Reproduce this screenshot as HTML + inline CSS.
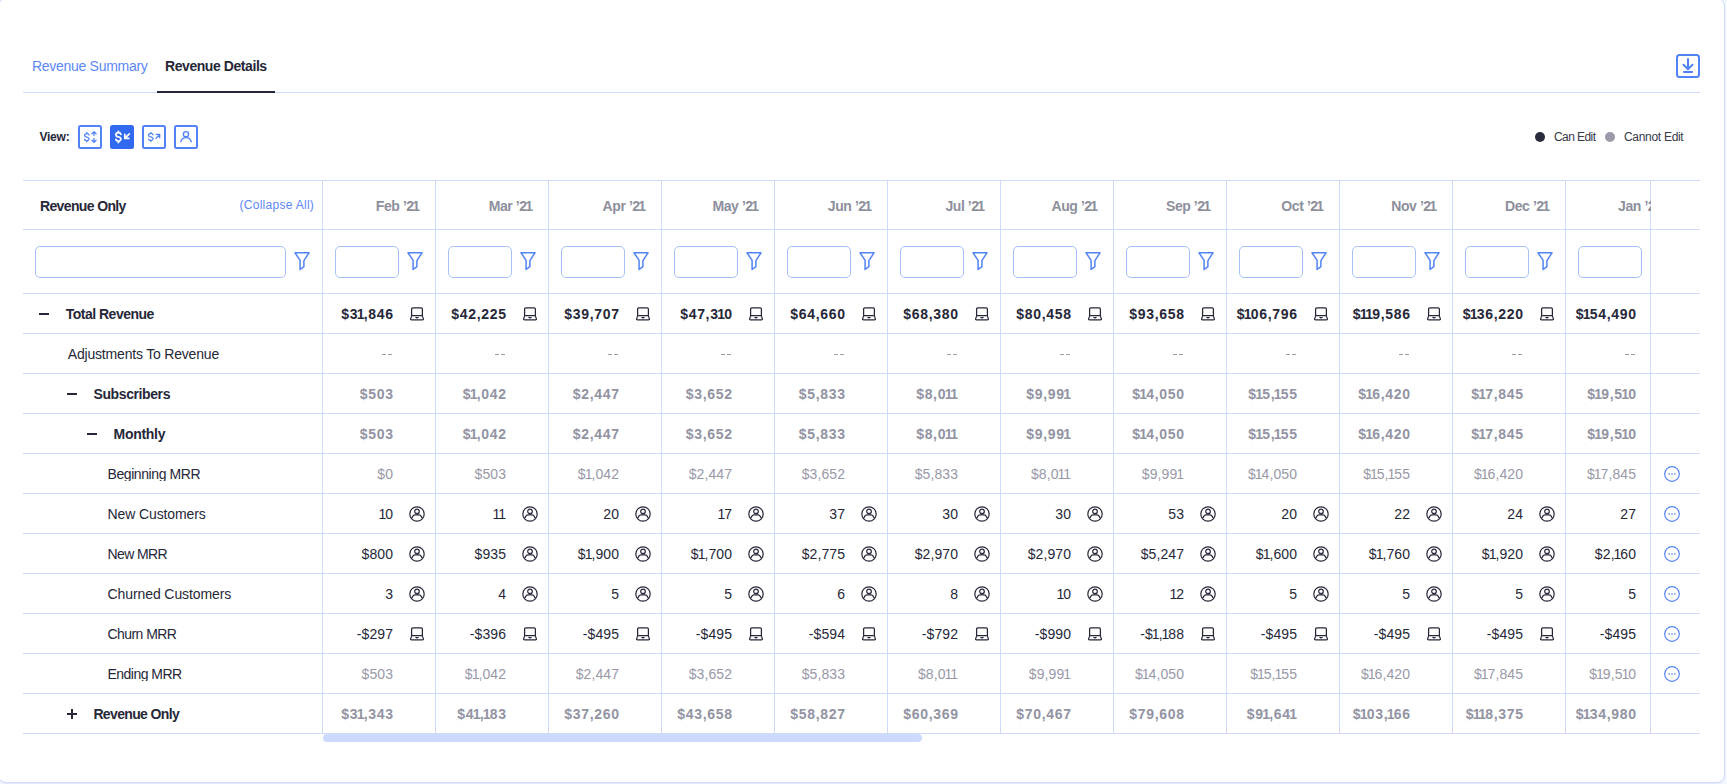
<!DOCTYPE html>
<html><head><meta charset="utf-8"><style>
html,body{margin:0;padding:0;width:1727px;height:784px;overflow:hidden;background:#f5f7fe;font-family:"Liberation Sans",sans-serif}
.b{position:absolute}
.t{position:absolute;white-space:nowrap;line-height:20px;height:20px}
.r{text-align:right}
</style></head><body>
<div class="b" style="left:-2px;top:-2px;width:1727px;height:785px;box-sizing:border-box;border:1px solid #cddafc;border-radius:8px;background:#fff;box-shadow:0 1px 1px rgba(70,110,240,0.10)"></div>
<div class="t" style="left:32px;top:56px;font-size:14px;font-weight:400;color:#5b88f5;letter-spacing:-0.29px;">Revenue Summary</div>
<div class="t" style="left:165px;top:56px;font-size:14px;font-weight:700;color:#262738;letter-spacing:-0.43px;">Revenue Details</div>
<div class="b" style="left:23px;top:92px;width:1677px;height:1px;background:#cddafc;"></div>
<div class="b" style="left:157px;top:91px;width:118px;height:2px;background:#262738;"></div>
<svg class="b" style="left:1676px;top:54px" width="24" height="24" viewBox="0 0 24 24" fill="none"><rect x="1" y="1" width="22" height="22" rx="2.5" stroke="#5283f6" stroke-width="2"/><path d="M12 5v10M7.5 10.8L12 15.2l4.5-4.4" stroke="#5283f6" stroke-width="2" stroke-linecap="round" stroke-linejoin="round"/><path d="M7.2 18h9.7" stroke="#5283f6" stroke-width="2"/></svg>
<div class="t" style="left:39.5px;top:127px;font-size:12px;font-weight:700;color:#262738;letter-spacing:-0.25px;">View:</div>
<svg class="b" style="left:78px;top:125px" width="24" height="24" viewBox="0 0 24 24" fill="none"><rect x="1" y="1" width="22" height="22" rx="1.5" stroke="#5283f6" stroke-width="2"/><path d="M11.10 10.02C10.80 8.96 9.85 8.60 8.85 8.60C7.30 8.60 6.60 9.59 6.60 10.59C6.60 11.79 7.95 11.94 8.85 12.15C9.75 12.36 11.10 12.65 11.10 13.78C11.10 14.85 9.65 15.70 8.85 15.70C7.75 15.70 6.90 15.20 6.60 14.28M8.85 7.50V8.60M8.85 15.70V16.80" stroke="#5283f6" stroke-width="1.3" stroke-linecap="round" stroke-linejoin="round" fill="none"/><path d="M16 6.6v4M13.9 8.7L16 6.6l2.1 2.1M16 13.4v4M13.9 15.3L16 17.4l2.1-2.1" stroke="#5283f6" stroke-width="1.3" stroke-linecap="round" stroke-linejoin="round"/></svg>
<svg class="b" style="left:110px;top:125px" width="24" height="24" viewBox="0 0 24 24" fill="none"><rect x="0" y="0" width="24" height="24" rx="2.5" fill="#3169f0"/><path d="M10.90 9.32C10.60 8.03 9.40 7.60 8.40 7.60C6.60 7.60 5.90 8.80 5.90 10.01C5.90 11.47 7.50 11.64 8.40 11.90C9.30 12.16 10.90 12.50 10.90 13.88C10.90 15.17 9.20 16.20 8.40 16.20C7.30 16.20 6.20 15.60 5.90 14.48M8.40 6.30V7.60M8.40 16.20V17.50" stroke="#fff" stroke-width="1.8" stroke-linecap="round" stroke-linejoin="round" fill="none"/><path d="M19.3 8.9l-4.4 4.4M14.8 9.4v4h4" stroke="#fff" stroke-width="1.8" stroke-linecap="round" stroke-linejoin="round"/></svg>
<svg class="b" style="left:142px;top:125px" width="24" height="24" viewBox="0 0 24 24" fill="none"><rect x="1" y="1" width="22" height="22" rx="1.5" stroke="#5283f6" stroke-width="2"/><path d="M11.10 9.82C10.80 8.76 9.85 8.40 8.85 8.40C7.30 8.40 6.60 9.39 6.60 10.39C6.60 11.60 7.95 11.74 8.85 11.95C9.75 12.16 11.10 12.45 11.10 13.58C11.10 14.65 9.65 15.50 8.85 15.50C7.75 15.50 6.90 15.00 6.60 14.08M8.85 7.30V8.40M8.85 15.50V16.60" stroke="#5283f6" stroke-width="1.3" stroke-linecap="round" stroke-linejoin="round" fill="none"/><path d="M13.9 13.4l3.7-3.9M14.2 9.3h3.5v3.5" stroke="#5283f6" stroke-width="1.3" stroke-linecap="round" stroke-linejoin="round"/></svg>
<svg class="b" style="left:174px;top:125px" width="24" height="24" viewBox="0 0 24 24" fill="none"><rect x="1" y="1" width="22" height="22" rx="1.5" stroke="#5283f6" stroke-width="2"/><circle cx="12" cy="9.2" r="2.6" stroke="#5283f6" stroke-width="1.4"/><path d="M6.8 16.8C7.4 14 9.4 12.6 12 12.6S16.6 14 17.2 16.8" stroke="#5283f6" stroke-width="1.4" stroke-linecap="round"/></svg>
<div class="b" style="left:1535px;top:132px;width:10px;height:10px;background:#2a2b3d;border-radius:50%"></div>
<div class="t" style="left:1554px;top:127px;font-size:12px;font-weight:400;color:#383949;letter-spacing:-0.57px;">Can Edit</div>
<div class="b" style="left:1605px;top:132px;width:10px;height:10px;background:#9a9aa9;border-radius:50%"></div>
<div class="t" style="left:1624px;top:127px;font-size:12px;font-weight:400;color:#383949;letter-spacing:-0.30px;">Cannot Edit</div>
<div class="b" style="left:23px;top:180px;width:1677px;height:1px;background:#cddafc;"></div>
<div class="b" style="left:23px;top:229px;width:1677px;height:1px;background:#cddafc;"></div>
<div class="b" style="left:23px;top:293px;width:1677px;height:1px;background:#cddafc;"></div>
<div class="b" style="left:23px;top:333px;width:1677px;height:1px;background:#cddafc;"></div>
<div class="b" style="left:23px;top:373px;width:1677px;height:1px;background:#cddafc;"></div>
<div class="b" style="left:23px;top:413px;width:1677px;height:1px;background:#cddafc;"></div>
<div class="b" style="left:23px;top:453px;width:1677px;height:1px;background:#cddafc;"></div>
<div class="b" style="left:23px;top:493px;width:1677px;height:1px;background:#cddafc;"></div>
<div class="b" style="left:23px;top:533px;width:1677px;height:1px;background:#cddafc;"></div>
<div class="b" style="left:23px;top:573px;width:1677px;height:1px;background:#cddafc;"></div>
<div class="b" style="left:23px;top:613px;width:1677px;height:1px;background:#cddafc;"></div>
<div class="b" style="left:23px;top:653px;width:1677px;height:1px;background:#cddafc;"></div>
<div class="b" style="left:23px;top:693px;width:1677px;height:1px;background:#cddafc;"></div>
<div class="b" style="left:23px;top:733px;width:1677px;height:1px;background:#cddafc;"></div>
<div class="b" style="left:322px;top:180px;width:1px;height:554px;background:#cddafc;"></div>
<div class="b" style="left:435px;top:180px;width:1px;height:554px;background:#cddafc;"></div>
<div class="b" style="left:548px;top:180px;width:1px;height:554px;background:#cddafc;"></div>
<div class="b" style="left:661px;top:180px;width:1px;height:554px;background:#cddafc;"></div>
<div class="b" style="left:774px;top:180px;width:1px;height:554px;background:#cddafc;"></div>
<div class="b" style="left:887px;top:180px;width:1px;height:554px;background:#cddafc;"></div>
<div class="b" style="left:1000px;top:180px;width:1px;height:554px;background:#cddafc;"></div>
<div class="b" style="left:1113px;top:180px;width:1px;height:554px;background:#cddafc;"></div>
<div class="b" style="left:1226px;top:180px;width:1px;height:554px;background:#cddafc;"></div>
<div class="b" style="left:1339px;top:180px;width:1px;height:554px;background:#cddafc;"></div>
<div class="b" style="left:1452px;top:180px;width:1px;height:554px;background:#cddafc;"></div>
<div class="b" style="left:1565px;top:180px;width:1px;height:554px;background:#cddafc;"></div>
<div class="b" style="left:1650px;top:180px;width:1px;height:554px;background:#cddafc;"></div>
<div class="t" style="left:40px;top:196px;font-size:14px;font-weight:700;color:#262738;letter-spacing:-0.64px;">Revenue Only</div>
<div class="t" style="left:239.5px;top:195px;font-size:12px;font-weight:400;color:#5b88f5;letter-spacing:0.28px;">(Collapse All)</div>
<div class="b" style="left:35px;top:246px;width:251px;height:32px;box-sizing:border-box;border:1px solid #a9c1fb;border-radius:5px"></div>
<svg class="b" style="left:294px;top:252px" width="16" height="19" viewBox="0 0 16 19" fill="none"><path d="M1 0.8H15L9.9 8.6V14.6L6.1 17.5V8.4Z" stroke="#5283f6" stroke-width="1.5" stroke-linejoin="round"/></svg>
<div class="b" style="left:335px;top:246px;width:64px;height:32px;box-sizing:border-box;border:1px solid #a9c1fb;border-radius:5px"></div>
<svg class="b" style="left:407px;top:252px" width="16" height="19" viewBox="0 0 16 19" fill="none"><path d="M1 0.8H15L9.9 8.6V14.6L6.1 17.5V8.4Z" stroke="#5283f6" stroke-width="1.5" stroke-linejoin="round"/></svg>
<div class="b" style="left:448px;top:246px;width:64px;height:32px;box-sizing:border-box;border:1px solid #a9c1fb;border-radius:5px"></div>
<svg class="b" style="left:520px;top:252px" width="16" height="19" viewBox="0 0 16 19" fill="none"><path d="M1 0.8H15L9.9 8.6V14.6L6.1 17.5V8.4Z" stroke="#5283f6" stroke-width="1.5" stroke-linejoin="round"/></svg>
<div class="b" style="left:561px;top:246px;width:64px;height:32px;box-sizing:border-box;border:1px solid #a9c1fb;border-radius:5px"></div>
<svg class="b" style="left:633px;top:252px" width="16" height="19" viewBox="0 0 16 19" fill="none"><path d="M1 0.8H15L9.9 8.6V14.6L6.1 17.5V8.4Z" stroke="#5283f6" stroke-width="1.5" stroke-linejoin="round"/></svg>
<div class="b" style="left:674px;top:246px;width:64px;height:32px;box-sizing:border-box;border:1px solid #a9c1fb;border-radius:5px"></div>
<svg class="b" style="left:746px;top:252px" width="16" height="19" viewBox="0 0 16 19" fill="none"><path d="M1 0.8H15L9.9 8.6V14.6L6.1 17.5V8.4Z" stroke="#5283f6" stroke-width="1.5" stroke-linejoin="round"/></svg>
<div class="b" style="left:787px;top:246px;width:64px;height:32px;box-sizing:border-box;border:1px solid #a9c1fb;border-radius:5px"></div>
<svg class="b" style="left:859px;top:252px" width="16" height="19" viewBox="0 0 16 19" fill="none"><path d="M1 0.8H15L9.9 8.6V14.6L6.1 17.5V8.4Z" stroke="#5283f6" stroke-width="1.5" stroke-linejoin="round"/></svg>
<div class="b" style="left:900px;top:246px;width:64px;height:32px;box-sizing:border-box;border:1px solid #a9c1fb;border-radius:5px"></div>
<svg class="b" style="left:972px;top:252px" width="16" height="19" viewBox="0 0 16 19" fill="none"><path d="M1 0.8H15L9.9 8.6V14.6L6.1 17.5V8.4Z" stroke="#5283f6" stroke-width="1.5" stroke-linejoin="round"/></svg>
<div class="b" style="left:1013px;top:246px;width:64px;height:32px;box-sizing:border-box;border:1px solid #a9c1fb;border-radius:5px"></div>
<svg class="b" style="left:1085px;top:252px" width="16" height="19" viewBox="0 0 16 19" fill="none"><path d="M1 0.8H15L9.9 8.6V14.6L6.1 17.5V8.4Z" stroke="#5283f6" stroke-width="1.5" stroke-linejoin="round"/></svg>
<div class="b" style="left:1126px;top:246px;width:64px;height:32px;box-sizing:border-box;border:1px solid #a9c1fb;border-radius:5px"></div>
<svg class="b" style="left:1198px;top:252px" width="16" height="19" viewBox="0 0 16 19" fill="none"><path d="M1 0.8H15L9.9 8.6V14.6L6.1 17.5V8.4Z" stroke="#5283f6" stroke-width="1.5" stroke-linejoin="round"/></svg>
<div class="b" style="left:1239px;top:246px;width:64px;height:32px;box-sizing:border-box;border:1px solid #a9c1fb;border-radius:5px"></div>
<svg class="b" style="left:1311px;top:252px" width="16" height="19" viewBox="0 0 16 19" fill="none"><path d="M1 0.8H15L9.9 8.6V14.6L6.1 17.5V8.4Z" stroke="#5283f6" stroke-width="1.5" stroke-linejoin="round"/></svg>
<div class="b" style="left:1352px;top:246px;width:64px;height:32px;box-sizing:border-box;border:1px solid #a9c1fb;border-radius:5px"></div>
<svg class="b" style="left:1424px;top:252px" width="16" height="19" viewBox="0 0 16 19" fill="none"><path d="M1 0.8H15L9.9 8.6V14.6L6.1 17.5V8.4Z" stroke="#5283f6" stroke-width="1.5" stroke-linejoin="round"/></svg>
<div class="b" style="left:1465px;top:246px;width:64px;height:32px;box-sizing:border-box;border:1px solid #a9c1fb;border-radius:5px"></div>
<svg class="b" style="left:1537px;top:252px" width="16" height="19" viewBox="0 0 16 19" fill="none"><path d="M1 0.8H15L9.9 8.6V14.6L6.1 17.5V8.4Z" stroke="#5283f6" stroke-width="1.5" stroke-linejoin="round"/></svg>
<div class="b" style="left:1578px;top:246px;width:64px;height:32px;box-sizing:border-box;border:1px solid #a9c1fb;border-radius:5px"></div>
<div class="b" style="left:39px;top:313px;width:10px;height:2px;background:#262738;"></div>
<div class="t" style="left:65.7px;top:304px;font-size:14px;font-weight:700;color:#262738;letter-spacing:-0.50px;">Total Revenue</div>
<div class="t r" style="right:1333.3px;top:304px;font-size:14px;font-weight:700;color:#262738;letter-spacing:0.70px;">$3<span style="margin-left:-1.50px;letter-spacing:-0.80px">1</span>,846</div>
<svg class="b" style="left:410px;top:307px" width="14" height="14" viewBox="0 0 14 14" fill="none"><path d="M1.6 8.6V2.1C1.6 1.4 2.1 0.9 2.8 0.9H11.2C11.9 0.9 12.4 1.4 12.4 2.1V8.6Z" stroke="#262738" stroke-width="1.25" stroke-linejoin="round"/><path d="M1.6 9.1L0.6 11.9C0.5 12.5 0.9 12.9 1.5 12.9H12.5C13.1 12.9 13.5 12.5 13.4 11.9L12.4 9.1" stroke="#262738" stroke-width="1.25" stroke-linejoin="round"/><path d="M5.8 10.5H8.2M7 10.5V11.2" stroke="#262738" stroke-width="1.1" stroke-linecap="round"/></svg>
<div class="t r" style="right:1220.3px;top:304px;font-size:14px;font-weight:700;color:#262738;letter-spacing:0.70px;">$42,225</div>
<svg class="b" style="left:523px;top:307px" width="14" height="14" viewBox="0 0 14 14" fill="none"><path d="M1.6 8.6V2.1C1.6 1.4 2.1 0.9 2.8 0.9H11.2C11.9 0.9 12.4 1.4 12.4 2.1V8.6Z" stroke="#262738" stroke-width="1.25" stroke-linejoin="round"/><path d="M1.6 9.1L0.6 11.9C0.5 12.5 0.9 12.9 1.5 12.9H12.5C13.1 12.9 13.5 12.5 13.4 11.9L12.4 9.1" stroke="#262738" stroke-width="1.25" stroke-linejoin="round"/><path d="M5.8 10.5H8.2M7 10.5V11.2" stroke="#262738" stroke-width="1.1" stroke-linecap="round"/></svg>
<div class="t r" style="right:1107.3px;top:304px;font-size:14px;font-weight:700;color:#262738;letter-spacing:0.70px;">$39,707</div>
<svg class="b" style="left:636px;top:307px" width="14" height="14" viewBox="0 0 14 14" fill="none"><path d="M1.6 8.6V2.1C1.6 1.4 2.1 0.9 2.8 0.9H11.2C11.9 0.9 12.4 1.4 12.4 2.1V8.6Z" stroke="#262738" stroke-width="1.25" stroke-linejoin="round"/><path d="M1.6 9.1L0.6 11.9C0.5 12.5 0.9 12.9 1.5 12.9H12.5C13.1 12.9 13.5 12.5 13.4 11.9L12.4 9.1" stroke="#262738" stroke-width="1.25" stroke-linejoin="round"/><path d="M5.8 10.5H8.2M7 10.5V11.2" stroke="#262738" stroke-width="1.1" stroke-linecap="round"/></svg>
<div class="t r" style="right:994.3px;top:304px;font-size:14px;font-weight:700;color:#262738;letter-spacing:0.70px;">$47,3<span style="margin-left:-1.50px;letter-spacing:-0.80px">1</span>0</div>
<svg class="b" style="left:749px;top:307px" width="14" height="14" viewBox="0 0 14 14" fill="none"><path d="M1.6 8.6V2.1C1.6 1.4 2.1 0.9 2.8 0.9H11.2C11.9 0.9 12.4 1.4 12.4 2.1V8.6Z" stroke="#262738" stroke-width="1.25" stroke-linejoin="round"/><path d="M1.6 9.1L0.6 11.9C0.5 12.5 0.9 12.9 1.5 12.9H12.5C13.1 12.9 13.5 12.5 13.4 11.9L12.4 9.1" stroke="#262738" stroke-width="1.25" stroke-linejoin="round"/><path d="M5.8 10.5H8.2M7 10.5V11.2" stroke="#262738" stroke-width="1.1" stroke-linecap="round"/></svg>
<div class="t r" style="right:881.3px;top:304px;font-size:14px;font-weight:700;color:#262738;letter-spacing:0.70px;">$64,660</div>
<svg class="b" style="left:862px;top:307px" width="14" height="14" viewBox="0 0 14 14" fill="none"><path d="M1.6 8.6V2.1C1.6 1.4 2.1 0.9 2.8 0.9H11.2C11.9 0.9 12.4 1.4 12.4 2.1V8.6Z" stroke="#262738" stroke-width="1.25" stroke-linejoin="round"/><path d="M1.6 9.1L0.6 11.9C0.5 12.5 0.9 12.9 1.5 12.9H12.5C13.1 12.9 13.5 12.5 13.4 11.9L12.4 9.1" stroke="#262738" stroke-width="1.25" stroke-linejoin="round"/><path d="M5.8 10.5H8.2M7 10.5V11.2" stroke="#262738" stroke-width="1.1" stroke-linecap="round"/></svg>
<div class="t r" style="right:768.3px;top:304px;font-size:14px;font-weight:700;color:#262738;letter-spacing:0.70px;">$68,380</div>
<svg class="b" style="left:975px;top:307px" width="14" height="14" viewBox="0 0 14 14" fill="none"><path d="M1.6 8.6V2.1C1.6 1.4 2.1 0.9 2.8 0.9H11.2C11.9 0.9 12.4 1.4 12.4 2.1V8.6Z" stroke="#262738" stroke-width="1.25" stroke-linejoin="round"/><path d="M1.6 9.1L0.6 11.9C0.5 12.5 0.9 12.9 1.5 12.9H12.5C13.1 12.9 13.5 12.5 13.4 11.9L12.4 9.1" stroke="#262738" stroke-width="1.25" stroke-linejoin="round"/><path d="M5.8 10.5H8.2M7 10.5V11.2" stroke="#262738" stroke-width="1.1" stroke-linecap="round"/></svg>
<div class="t r" style="right:655.3px;top:304px;font-size:14px;font-weight:700;color:#262738;letter-spacing:0.70px;">$80,458</div>
<svg class="b" style="left:1088px;top:307px" width="14" height="14" viewBox="0 0 14 14" fill="none"><path d="M1.6 8.6V2.1C1.6 1.4 2.1 0.9 2.8 0.9H11.2C11.9 0.9 12.4 1.4 12.4 2.1V8.6Z" stroke="#262738" stroke-width="1.25" stroke-linejoin="round"/><path d="M1.6 9.1L0.6 11.9C0.5 12.5 0.9 12.9 1.5 12.9H12.5C13.1 12.9 13.5 12.5 13.4 11.9L12.4 9.1" stroke="#262738" stroke-width="1.25" stroke-linejoin="round"/><path d="M5.8 10.5H8.2M7 10.5V11.2" stroke="#262738" stroke-width="1.1" stroke-linecap="round"/></svg>
<div class="t r" style="right:542.3px;top:304px;font-size:14px;font-weight:700;color:#262738;letter-spacing:0.70px;">$93,658</div>
<svg class="b" style="left:1201px;top:307px" width="14" height="14" viewBox="0 0 14 14" fill="none"><path d="M1.6 8.6V2.1C1.6 1.4 2.1 0.9 2.8 0.9H11.2C11.9 0.9 12.4 1.4 12.4 2.1V8.6Z" stroke="#262738" stroke-width="1.25" stroke-linejoin="round"/><path d="M1.6 9.1L0.6 11.9C0.5 12.5 0.9 12.9 1.5 12.9H12.5C13.1 12.9 13.5 12.5 13.4 11.9L12.4 9.1" stroke="#262738" stroke-width="1.25" stroke-linejoin="round"/><path d="M5.8 10.5H8.2M7 10.5V11.2" stroke="#262738" stroke-width="1.1" stroke-linecap="round"/></svg>
<div class="t r" style="right:429.29999999999995px;top:304px;font-size:14px;font-weight:700;color:#262738;letter-spacing:0.70px;">$<span style="margin-left:-1.50px;letter-spacing:-0.80px">1</span>06,796</div>
<svg class="b" style="left:1314px;top:307px" width="14" height="14" viewBox="0 0 14 14" fill="none"><path d="M1.6 8.6V2.1C1.6 1.4 2.1 0.9 2.8 0.9H11.2C11.9 0.9 12.4 1.4 12.4 2.1V8.6Z" stroke="#262738" stroke-width="1.25" stroke-linejoin="round"/><path d="M1.6 9.1L0.6 11.9C0.5 12.5 0.9 12.9 1.5 12.9H12.5C13.1 12.9 13.5 12.5 13.4 11.9L12.4 9.1" stroke="#262738" stroke-width="1.25" stroke-linejoin="round"/><path d="M5.8 10.5H8.2M7 10.5V11.2" stroke="#262738" stroke-width="1.1" stroke-linecap="round"/></svg>
<div class="t r" style="right:316.29999999999995px;top:304px;font-size:14px;font-weight:700;color:#262738;letter-spacing:0.70px;">$<span style="margin-left:-1.50px;letter-spacing:-0.80px">1</span><span style="margin-left:-1.50px;letter-spacing:-0.80px">1</span>9,586</div>
<svg class="b" style="left:1427px;top:307px" width="14" height="14" viewBox="0 0 14 14" fill="none"><path d="M1.6 8.6V2.1C1.6 1.4 2.1 0.9 2.8 0.9H11.2C11.9 0.9 12.4 1.4 12.4 2.1V8.6Z" stroke="#262738" stroke-width="1.25" stroke-linejoin="round"/><path d="M1.6 9.1L0.6 11.9C0.5 12.5 0.9 12.9 1.5 12.9H12.5C13.1 12.9 13.5 12.5 13.4 11.9L12.4 9.1" stroke="#262738" stroke-width="1.25" stroke-linejoin="round"/><path d="M5.8 10.5H8.2M7 10.5V11.2" stroke="#262738" stroke-width="1.1" stroke-linecap="round"/></svg>
<div class="t r" style="right:203.29999999999995px;top:304px;font-size:14px;font-weight:700;color:#262738;letter-spacing:0.70px;">$<span style="margin-left:-1.50px;letter-spacing:-0.80px">1</span>36,220</div>
<svg class="b" style="left:1540px;top:307px" width="14" height="14" viewBox="0 0 14 14" fill="none"><path d="M1.6 8.6V2.1C1.6 1.4 2.1 0.9 2.8 0.9H11.2C11.9 0.9 12.4 1.4 12.4 2.1V8.6Z" stroke="#262738" stroke-width="1.25" stroke-linejoin="round"/><path d="M1.6 9.1L0.6 11.9C0.5 12.5 0.9 12.9 1.5 12.9H12.5C13.1 12.9 13.5 12.5 13.4 11.9L12.4 9.1" stroke="#262738" stroke-width="1.25" stroke-linejoin="round"/><path d="M5.8 10.5H8.2M7 10.5V11.2" stroke="#262738" stroke-width="1.1" stroke-linecap="round"/></svg>
<div class="t r" style="right:90.29999999999995px;top:304px;font-size:14px;font-weight:700;color:#262738;letter-spacing:0.70px;">$<span style="margin-left:-1.50px;letter-spacing:-0.80px">1</span>54,490</div>
<div class="t" style="left:67.8px;top:344px;font-size:14px;font-weight:400;color:#262738;letter-spacing:-0.19px;">Adjustments To Revenue</div>
<div class="b" style="left:382px;top:354px;width:4px;height:1px;background:#9c9dab;"></div>
<div class="b" style="left:388px;top:354px;width:4px;height:1px;background:#9c9dab;"></div>
<div class="b" style="left:495px;top:354px;width:4px;height:1px;background:#9c9dab;"></div>
<div class="b" style="left:501px;top:354px;width:4px;height:1px;background:#9c9dab;"></div>
<div class="b" style="left:608px;top:354px;width:4px;height:1px;background:#9c9dab;"></div>
<div class="b" style="left:614px;top:354px;width:4px;height:1px;background:#9c9dab;"></div>
<div class="b" style="left:721px;top:354px;width:4px;height:1px;background:#9c9dab;"></div>
<div class="b" style="left:727px;top:354px;width:4px;height:1px;background:#9c9dab;"></div>
<div class="b" style="left:834px;top:354px;width:4px;height:1px;background:#9c9dab;"></div>
<div class="b" style="left:840px;top:354px;width:4px;height:1px;background:#9c9dab;"></div>
<div class="b" style="left:947px;top:354px;width:4px;height:1px;background:#9c9dab;"></div>
<div class="b" style="left:953px;top:354px;width:4px;height:1px;background:#9c9dab;"></div>
<div class="b" style="left:1060px;top:354px;width:4px;height:1px;background:#9c9dab;"></div>
<div class="b" style="left:1066px;top:354px;width:4px;height:1px;background:#9c9dab;"></div>
<div class="b" style="left:1173px;top:354px;width:4px;height:1px;background:#9c9dab;"></div>
<div class="b" style="left:1179px;top:354px;width:4px;height:1px;background:#9c9dab;"></div>
<div class="b" style="left:1286px;top:354px;width:4px;height:1px;background:#9c9dab;"></div>
<div class="b" style="left:1292px;top:354px;width:4px;height:1px;background:#9c9dab;"></div>
<div class="b" style="left:1399px;top:354px;width:4px;height:1px;background:#9c9dab;"></div>
<div class="b" style="left:1405px;top:354px;width:4px;height:1px;background:#9c9dab;"></div>
<div class="b" style="left:1512px;top:354px;width:4px;height:1px;background:#9c9dab;"></div>
<div class="b" style="left:1518px;top:354px;width:4px;height:1px;background:#9c9dab;"></div>
<div class="b" style="left:1625px;top:354px;width:4px;height:1px;background:#9c9dab;"></div>
<div class="b" style="left:1631px;top:354px;width:4px;height:1px;background:#9c9dab;"></div>
<div class="b" style="left:67px;top:393px;width:10px;height:2px;background:#262738;"></div>
<div class="t" style="left:93.5px;top:384px;font-size:14px;font-weight:700;color:#262738;letter-spacing:-0.40px;">Subscribers</div>
<div class="t r" style="right:1333.3px;top:384px;font-size:14px;font-weight:700;color:#9293a3;letter-spacing:0.70px;">$503</div>
<div class="t r" style="right:1220.3px;top:384px;font-size:14px;font-weight:700;color:#9293a3;letter-spacing:0.70px;">$<span style="margin-left:-1.50px;letter-spacing:-0.80px">1</span>,042</div>
<div class="t r" style="right:1107.3px;top:384px;font-size:14px;font-weight:700;color:#9293a3;letter-spacing:0.70px;">$2,447</div>
<div class="t r" style="right:994.3px;top:384px;font-size:14px;font-weight:700;color:#9293a3;letter-spacing:0.70px;">$3,652</div>
<div class="t r" style="right:881.3px;top:384px;font-size:14px;font-weight:700;color:#9293a3;letter-spacing:0.70px;">$5,833</div>
<div class="t r" style="right:769.8px;top:384px;font-size:14px;font-weight:700;color:#9293a3;letter-spacing:0.70px;">$8,0<span style="margin-left:-1.50px;letter-spacing:-0.80px">1</span><span style="margin-left:-1.50px;letter-spacing:-0.80px">1</span></div>
<div class="t r" style="right:656.8px;top:384px;font-size:14px;font-weight:700;color:#9293a3;letter-spacing:0.70px;">$9,99<span style="margin-left:-1.50px;letter-spacing:-0.80px">1</span></div>
<div class="t r" style="right:542.3px;top:384px;font-size:14px;font-weight:700;color:#9293a3;letter-spacing:0.70px;">$<span style="margin-left:-1.50px;letter-spacing:-0.80px">1</span>4,050</div>
<div class="t r" style="right:429.29999999999995px;top:384px;font-size:14px;font-weight:700;color:#9293a3;letter-spacing:0.70px;">$<span style="margin-left:-1.50px;letter-spacing:-0.80px">1</span>5,<span style="margin-left:-1.50px;letter-spacing:-0.80px">1</span>55</div>
<div class="t r" style="right:316.29999999999995px;top:384px;font-size:14px;font-weight:700;color:#9293a3;letter-spacing:0.70px;">$<span style="margin-left:-1.50px;letter-spacing:-0.80px">1</span>6,420</div>
<div class="t r" style="right:203.29999999999995px;top:384px;font-size:14px;font-weight:700;color:#9293a3;letter-spacing:0.70px;">$<span style="margin-left:-1.50px;letter-spacing:-0.80px">1</span>7,845</div>
<div class="t r" style="right:90.29999999999995px;top:384px;font-size:14px;font-weight:700;color:#9293a3;letter-spacing:0.70px;">$<span style="margin-left:-1.50px;letter-spacing:-0.80px">1</span>9,5<span style="margin-left:-1.50px;letter-spacing:-0.80px">1</span>0</div>
<div class="b" style="left:87px;top:433px;width:10px;height:2px;background:#262738;"></div>
<div class="t" style="left:113.6px;top:424px;font-size:14px;font-weight:700;color:#262738;letter-spacing:-0.30px;">Monthly</div>
<div class="t r" style="right:1333.3px;top:424px;font-size:14px;font-weight:700;color:#9293a3;letter-spacing:0.70px;">$503</div>
<div class="t r" style="right:1220.3px;top:424px;font-size:14px;font-weight:700;color:#9293a3;letter-spacing:0.70px;">$<span style="margin-left:-1.50px;letter-spacing:-0.80px">1</span>,042</div>
<div class="t r" style="right:1107.3px;top:424px;font-size:14px;font-weight:700;color:#9293a3;letter-spacing:0.70px;">$2,447</div>
<div class="t r" style="right:994.3px;top:424px;font-size:14px;font-weight:700;color:#9293a3;letter-spacing:0.70px;">$3,652</div>
<div class="t r" style="right:881.3px;top:424px;font-size:14px;font-weight:700;color:#9293a3;letter-spacing:0.70px;">$5,833</div>
<div class="t r" style="right:769.8px;top:424px;font-size:14px;font-weight:700;color:#9293a3;letter-spacing:0.70px;">$8,0<span style="margin-left:-1.50px;letter-spacing:-0.80px">1</span><span style="margin-left:-1.50px;letter-spacing:-0.80px">1</span></div>
<div class="t r" style="right:656.8px;top:424px;font-size:14px;font-weight:700;color:#9293a3;letter-spacing:0.70px;">$9,99<span style="margin-left:-1.50px;letter-spacing:-0.80px">1</span></div>
<div class="t r" style="right:542.3px;top:424px;font-size:14px;font-weight:700;color:#9293a3;letter-spacing:0.70px;">$<span style="margin-left:-1.50px;letter-spacing:-0.80px">1</span>4,050</div>
<div class="t r" style="right:429.29999999999995px;top:424px;font-size:14px;font-weight:700;color:#9293a3;letter-spacing:0.70px;">$<span style="margin-left:-1.50px;letter-spacing:-0.80px">1</span>5,<span style="margin-left:-1.50px;letter-spacing:-0.80px">1</span>55</div>
<div class="t r" style="right:316.29999999999995px;top:424px;font-size:14px;font-weight:700;color:#9293a3;letter-spacing:0.70px;">$<span style="margin-left:-1.50px;letter-spacing:-0.80px">1</span>6,420</div>
<div class="t r" style="right:203.29999999999995px;top:424px;font-size:14px;font-weight:700;color:#9293a3;letter-spacing:0.70px;">$<span style="margin-left:-1.50px;letter-spacing:-0.80px">1</span>7,845</div>
<div class="t r" style="right:90.29999999999995px;top:424px;font-size:14px;font-weight:700;color:#9293a3;letter-spacing:0.70px;">$<span style="margin-left:-1.50px;letter-spacing:-0.80px">1</span>9,5<span style="margin-left:-1.50px;letter-spacing:-0.80px">1</span>0</div>
<div class="t" style="left:107.5px;top:464px;font-size:14px;font-weight:400;color:#262738;letter-spacing:-0.42px;height:17px;overflow:hidden;">Beginning MRR</div>
<div class="t r" style="right:1333.9px;top:464px;font-size:14px;font-weight:400;color:#9898a7;letter-spacing:0.10px;">$0</div>
<div class="t r" style="right:1220.9px;top:464px;font-size:14px;font-weight:400;color:#9898a7;letter-spacing:0.10px;">$503</div>
<div class="t r" style="right:1107.9px;top:464px;font-size:14px;font-weight:400;color:#9898a7;letter-spacing:0.10px;">$<span style="margin-left:-1.10px;letter-spacing:-1.00px">1</span>,042</div>
<div class="t r" style="right:994.9px;top:464px;font-size:14px;font-weight:400;color:#9898a7;letter-spacing:0.10px;">$2,447</div>
<div class="t r" style="right:881.9px;top:464px;font-size:14px;font-weight:400;color:#9898a7;letter-spacing:0.10px;">$3,652</div>
<div class="t r" style="right:768.9px;top:464px;font-size:14px;font-weight:400;color:#9898a7;letter-spacing:0.10px;">$5,833</div>
<div class="t r" style="right:657.0px;top:464px;font-size:14px;font-weight:400;color:#9898a7;letter-spacing:0.10px;">$8,0<span style="margin-left:-1.10px;letter-spacing:-1.00px">1</span><span style="margin-left:-1.10px;letter-spacing:-1.00px">1</span></div>
<div class="t r" style="right:544.0px;top:464px;font-size:14px;font-weight:400;color:#9898a7;letter-spacing:0.10px;">$9,99<span style="margin-left:-1.10px;letter-spacing:-1.00px">1</span></div>
<div class="t r" style="right:429.9000000000001px;top:464px;font-size:14px;font-weight:400;color:#9898a7;letter-spacing:0.10px;">$<span style="margin-left:-1.10px;letter-spacing:-1.00px">1</span>4,050</div>
<div class="t r" style="right:316.9000000000001px;top:464px;font-size:14px;font-weight:400;color:#9898a7;letter-spacing:0.10px;">$<span style="margin-left:-1.10px;letter-spacing:-1.00px">1</span>5,<span style="margin-left:-1.10px;letter-spacing:-1.00px">1</span>55</div>
<div class="t r" style="right:203.9000000000001px;top:464px;font-size:14px;font-weight:400;color:#9898a7;letter-spacing:0.10px;">$<span style="margin-left:-1.10px;letter-spacing:-1.00px">1</span>6,420</div>
<div class="t r" style="right:90.90000000000009px;top:464px;font-size:14px;font-weight:400;color:#9898a7;letter-spacing:0.10px;">$<span style="margin-left:-1.10px;letter-spacing:-1.00px">1</span>7,845</div>
<div class="t" style="left:107.5px;top:504px;font-size:14px;font-weight:400;color:#262738;letter-spacing:-0.11px;">New Customers</div>
<div class="t r" style="right:1333.9px;top:504px;font-size:14px;font-weight:400;color:#262738;letter-spacing:0.10px;"><span style="margin-left:-1.10px;letter-spacing:-1.00px">1</span>0</div>
<svg class="b" style="left:409px;top:506px" width="16" height="16" viewBox="0 0 16 16" fill="none"><circle cx="8" cy="8" r="7.2" stroke="#262738" stroke-width="1.2"/><circle cx="8" cy="5.4" r="2.3" stroke="#262738" stroke-width="1.2"/><path d="M2.5 12.4L3.9 10.1Q4.6 9 5.9 8.9H10.1Q11.4 9 12.1 10.1L13.5 12.4" stroke="#262738" stroke-width="1.2"/></svg>
<div class="t r" style="right:1222.0px;top:504px;font-size:14px;font-weight:400;color:#262738;letter-spacing:0.10px;"><span style="margin-left:-1.10px;letter-spacing:-1.00px">1</span><span style="margin-left:-1.10px;letter-spacing:-1.00px">1</span></div>
<svg class="b" style="left:522px;top:506px" width="16" height="16" viewBox="0 0 16 16" fill="none"><circle cx="8" cy="8" r="7.2" stroke="#262738" stroke-width="1.2"/><circle cx="8" cy="5.4" r="2.3" stroke="#262738" stroke-width="1.2"/><path d="M2.5 12.4L3.9 10.1Q4.6 9 5.9 8.9H10.1Q11.4 9 12.1 10.1L13.5 12.4" stroke="#262738" stroke-width="1.2"/></svg>
<div class="t r" style="right:1107.9px;top:504px;font-size:14px;font-weight:400;color:#262738;letter-spacing:0.10px;">20</div>
<svg class="b" style="left:635px;top:506px" width="16" height="16" viewBox="0 0 16 16" fill="none"><circle cx="8" cy="8" r="7.2" stroke="#262738" stroke-width="1.2"/><circle cx="8" cy="5.4" r="2.3" stroke="#262738" stroke-width="1.2"/><path d="M2.5 12.4L3.9 10.1Q4.6 9 5.9 8.9H10.1Q11.4 9 12.1 10.1L13.5 12.4" stroke="#262738" stroke-width="1.2"/></svg>
<div class="t r" style="right:994.9px;top:504px;font-size:14px;font-weight:400;color:#262738;letter-spacing:0.10px;"><span style="margin-left:-1.10px;letter-spacing:-1.00px">1</span>7</div>
<svg class="b" style="left:748px;top:506px" width="16" height="16" viewBox="0 0 16 16" fill="none"><circle cx="8" cy="8" r="7.2" stroke="#262738" stroke-width="1.2"/><circle cx="8" cy="5.4" r="2.3" stroke="#262738" stroke-width="1.2"/><path d="M2.5 12.4L3.9 10.1Q4.6 9 5.9 8.9H10.1Q11.4 9 12.1 10.1L13.5 12.4" stroke="#262738" stroke-width="1.2"/></svg>
<div class="t r" style="right:881.9px;top:504px;font-size:14px;font-weight:400;color:#262738;letter-spacing:0.10px;">37</div>
<svg class="b" style="left:861px;top:506px" width="16" height="16" viewBox="0 0 16 16" fill="none"><circle cx="8" cy="8" r="7.2" stroke="#262738" stroke-width="1.2"/><circle cx="8" cy="5.4" r="2.3" stroke="#262738" stroke-width="1.2"/><path d="M2.5 12.4L3.9 10.1Q4.6 9 5.9 8.9H10.1Q11.4 9 12.1 10.1L13.5 12.4" stroke="#262738" stroke-width="1.2"/></svg>
<div class="t r" style="right:768.9px;top:504px;font-size:14px;font-weight:400;color:#262738;letter-spacing:0.10px;">30</div>
<svg class="b" style="left:974px;top:506px" width="16" height="16" viewBox="0 0 16 16" fill="none"><circle cx="8" cy="8" r="7.2" stroke="#262738" stroke-width="1.2"/><circle cx="8" cy="5.4" r="2.3" stroke="#262738" stroke-width="1.2"/><path d="M2.5 12.4L3.9 10.1Q4.6 9 5.9 8.9H10.1Q11.4 9 12.1 10.1L13.5 12.4" stroke="#262738" stroke-width="1.2"/></svg>
<div class="t r" style="right:655.9000000000001px;top:504px;font-size:14px;font-weight:400;color:#262738;letter-spacing:0.10px;">30</div>
<svg class="b" style="left:1087px;top:506px" width="16" height="16" viewBox="0 0 16 16" fill="none"><circle cx="8" cy="8" r="7.2" stroke="#262738" stroke-width="1.2"/><circle cx="8" cy="5.4" r="2.3" stroke="#262738" stroke-width="1.2"/><path d="M2.5 12.4L3.9 10.1Q4.6 9 5.9 8.9H10.1Q11.4 9 12.1 10.1L13.5 12.4" stroke="#262738" stroke-width="1.2"/></svg>
<div class="t r" style="right:542.9000000000001px;top:504px;font-size:14px;font-weight:400;color:#262738;letter-spacing:0.10px;">53</div>
<svg class="b" style="left:1200px;top:506px" width="16" height="16" viewBox="0 0 16 16" fill="none"><circle cx="8" cy="8" r="7.2" stroke="#262738" stroke-width="1.2"/><circle cx="8" cy="5.4" r="2.3" stroke="#262738" stroke-width="1.2"/><path d="M2.5 12.4L3.9 10.1Q4.6 9 5.9 8.9H10.1Q11.4 9 12.1 10.1L13.5 12.4" stroke="#262738" stroke-width="1.2"/></svg>
<div class="t r" style="right:429.9000000000001px;top:504px;font-size:14px;font-weight:400;color:#262738;letter-spacing:0.10px;">20</div>
<svg class="b" style="left:1313px;top:506px" width="16" height="16" viewBox="0 0 16 16" fill="none"><circle cx="8" cy="8" r="7.2" stroke="#262738" stroke-width="1.2"/><circle cx="8" cy="5.4" r="2.3" stroke="#262738" stroke-width="1.2"/><path d="M2.5 12.4L3.9 10.1Q4.6 9 5.9 8.9H10.1Q11.4 9 12.1 10.1L13.5 12.4" stroke="#262738" stroke-width="1.2"/></svg>
<div class="t r" style="right:316.9000000000001px;top:504px;font-size:14px;font-weight:400;color:#262738;letter-spacing:0.10px;">22</div>
<svg class="b" style="left:1426px;top:506px" width="16" height="16" viewBox="0 0 16 16" fill="none"><circle cx="8" cy="8" r="7.2" stroke="#262738" stroke-width="1.2"/><circle cx="8" cy="5.4" r="2.3" stroke="#262738" stroke-width="1.2"/><path d="M2.5 12.4L3.9 10.1Q4.6 9 5.9 8.9H10.1Q11.4 9 12.1 10.1L13.5 12.4" stroke="#262738" stroke-width="1.2"/></svg>
<div class="t r" style="right:203.9000000000001px;top:504px;font-size:14px;font-weight:400;color:#262738;letter-spacing:0.10px;">24</div>
<svg class="b" style="left:1539px;top:506px" width="16" height="16" viewBox="0 0 16 16" fill="none"><circle cx="8" cy="8" r="7.2" stroke="#262738" stroke-width="1.2"/><circle cx="8" cy="5.4" r="2.3" stroke="#262738" stroke-width="1.2"/><path d="M2.5 12.4L3.9 10.1Q4.6 9 5.9 8.9H10.1Q11.4 9 12.1 10.1L13.5 12.4" stroke="#262738" stroke-width="1.2"/></svg>
<div class="t r" style="right:90.90000000000009px;top:504px;font-size:14px;font-weight:400;color:#262738;letter-spacing:0.10px;">27</div>
<div class="t" style="left:107.5px;top:544px;font-size:14px;font-weight:400;color:#262738;letter-spacing:-0.63px;">New MRR</div>
<div class="t r" style="right:1333.9px;top:544px;font-size:14px;font-weight:400;color:#262738;letter-spacing:0.10px;">$800</div>
<svg class="b" style="left:409px;top:546px" width="16" height="16" viewBox="0 0 16 16" fill="none"><circle cx="8" cy="8" r="7.2" stroke="#262738" stroke-width="1.2"/><circle cx="8" cy="5.4" r="2.3" stroke="#262738" stroke-width="1.2"/><path d="M2.5 12.4L3.9 10.1Q4.6 9 5.9 8.9H10.1Q11.4 9 12.1 10.1L13.5 12.4" stroke="#262738" stroke-width="1.2"/></svg>
<div class="t r" style="right:1220.9px;top:544px;font-size:14px;font-weight:400;color:#262738;letter-spacing:0.10px;">$935</div>
<svg class="b" style="left:522px;top:546px" width="16" height="16" viewBox="0 0 16 16" fill="none"><circle cx="8" cy="8" r="7.2" stroke="#262738" stroke-width="1.2"/><circle cx="8" cy="5.4" r="2.3" stroke="#262738" stroke-width="1.2"/><path d="M2.5 12.4L3.9 10.1Q4.6 9 5.9 8.9H10.1Q11.4 9 12.1 10.1L13.5 12.4" stroke="#262738" stroke-width="1.2"/></svg>
<div class="t r" style="right:1107.9px;top:544px;font-size:14px;font-weight:400;color:#262738;letter-spacing:0.10px;">$<span style="margin-left:-1.10px;letter-spacing:-1.00px">1</span>,900</div>
<svg class="b" style="left:635px;top:546px" width="16" height="16" viewBox="0 0 16 16" fill="none"><circle cx="8" cy="8" r="7.2" stroke="#262738" stroke-width="1.2"/><circle cx="8" cy="5.4" r="2.3" stroke="#262738" stroke-width="1.2"/><path d="M2.5 12.4L3.9 10.1Q4.6 9 5.9 8.9H10.1Q11.4 9 12.1 10.1L13.5 12.4" stroke="#262738" stroke-width="1.2"/></svg>
<div class="t r" style="right:994.9px;top:544px;font-size:14px;font-weight:400;color:#262738;letter-spacing:0.10px;">$<span style="margin-left:-1.10px;letter-spacing:-1.00px">1</span>,700</div>
<svg class="b" style="left:748px;top:546px" width="16" height="16" viewBox="0 0 16 16" fill="none"><circle cx="8" cy="8" r="7.2" stroke="#262738" stroke-width="1.2"/><circle cx="8" cy="5.4" r="2.3" stroke="#262738" stroke-width="1.2"/><path d="M2.5 12.4L3.9 10.1Q4.6 9 5.9 8.9H10.1Q11.4 9 12.1 10.1L13.5 12.4" stroke="#262738" stroke-width="1.2"/></svg>
<div class="t r" style="right:881.9px;top:544px;font-size:14px;font-weight:400;color:#262738;letter-spacing:0.10px;">$2,775</div>
<svg class="b" style="left:861px;top:546px" width="16" height="16" viewBox="0 0 16 16" fill="none"><circle cx="8" cy="8" r="7.2" stroke="#262738" stroke-width="1.2"/><circle cx="8" cy="5.4" r="2.3" stroke="#262738" stroke-width="1.2"/><path d="M2.5 12.4L3.9 10.1Q4.6 9 5.9 8.9H10.1Q11.4 9 12.1 10.1L13.5 12.4" stroke="#262738" stroke-width="1.2"/></svg>
<div class="t r" style="right:768.9px;top:544px;font-size:14px;font-weight:400;color:#262738;letter-spacing:0.10px;">$2,970</div>
<svg class="b" style="left:974px;top:546px" width="16" height="16" viewBox="0 0 16 16" fill="none"><circle cx="8" cy="8" r="7.2" stroke="#262738" stroke-width="1.2"/><circle cx="8" cy="5.4" r="2.3" stroke="#262738" stroke-width="1.2"/><path d="M2.5 12.4L3.9 10.1Q4.6 9 5.9 8.9H10.1Q11.4 9 12.1 10.1L13.5 12.4" stroke="#262738" stroke-width="1.2"/></svg>
<div class="t r" style="right:655.9000000000001px;top:544px;font-size:14px;font-weight:400;color:#262738;letter-spacing:0.10px;">$2,970</div>
<svg class="b" style="left:1087px;top:546px" width="16" height="16" viewBox="0 0 16 16" fill="none"><circle cx="8" cy="8" r="7.2" stroke="#262738" stroke-width="1.2"/><circle cx="8" cy="5.4" r="2.3" stroke="#262738" stroke-width="1.2"/><path d="M2.5 12.4L3.9 10.1Q4.6 9 5.9 8.9H10.1Q11.4 9 12.1 10.1L13.5 12.4" stroke="#262738" stroke-width="1.2"/></svg>
<div class="t r" style="right:542.9000000000001px;top:544px;font-size:14px;font-weight:400;color:#262738;letter-spacing:0.10px;">$5,247</div>
<svg class="b" style="left:1200px;top:546px" width="16" height="16" viewBox="0 0 16 16" fill="none"><circle cx="8" cy="8" r="7.2" stroke="#262738" stroke-width="1.2"/><circle cx="8" cy="5.4" r="2.3" stroke="#262738" stroke-width="1.2"/><path d="M2.5 12.4L3.9 10.1Q4.6 9 5.9 8.9H10.1Q11.4 9 12.1 10.1L13.5 12.4" stroke="#262738" stroke-width="1.2"/></svg>
<div class="t r" style="right:429.9000000000001px;top:544px;font-size:14px;font-weight:400;color:#262738;letter-spacing:0.10px;">$<span style="margin-left:-1.10px;letter-spacing:-1.00px">1</span>,600</div>
<svg class="b" style="left:1313px;top:546px" width="16" height="16" viewBox="0 0 16 16" fill="none"><circle cx="8" cy="8" r="7.2" stroke="#262738" stroke-width="1.2"/><circle cx="8" cy="5.4" r="2.3" stroke="#262738" stroke-width="1.2"/><path d="M2.5 12.4L3.9 10.1Q4.6 9 5.9 8.9H10.1Q11.4 9 12.1 10.1L13.5 12.4" stroke="#262738" stroke-width="1.2"/></svg>
<div class="t r" style="right:316.9000000000001px;top:544px;font-size:14px;font-weight:400;color:#262738;letter-spacing:0.10px;">$<span style="margin-left:-1.10px;letter-spacing:-1.00px">1</span>,760</div>
<svg class="b" style="left:1426px;top:546px" width="16" height="16" viewBox="0 0 16 16" fill="none"><circle cx="8" cy="8" r="7.2" stroke="#262738" stroke-width="1.2"/><circle cx="8" cy="5.4" r="2.3" stroke="#262738" stroke-width="1.2"/><path d="M2.5 12.4L3.9 10.1Q4.6 9 5.9 8.9H10.1Q11.4 9 12.1 10.1L13.5 12.4" stroke="#262738" stroke-width="1.2"/></svg>
<div class="t r" style="right:203.9000000000001px;top:544px;font-size:14px;font-weight:400;color:#262738;letter-spacing:0.10px;">$<span style="margin-left:-1.10px;letter-spacing:-1.00px">1</span>,920</div>
<svg class="b" style="left:1539px;top:546px" width="16" height="16" viewBox="0 0 16 16" fill="none"><circle cx="8" cy="8" r="7.2" stroke="#262738" stroke-width="1.2"/><circle cx="8" cy="5.4" r="2.3" stroke="#262738" stroke-width="1.2"/><path d="M2.5 12.4L3.9 10.1Q4.6 9 5.9 8.9H10.1Q11.4 9 12.1 10.1L13.5 12.4" stroke="#262738" stroke-width="1.2"/></svg>
<div class="t r" style="right:90.90000000000009px;top:544px;font-size:14px;font-weight:400;color:#262738;letter-spacing:0.10px;">$2,<span style="margin-left:-1.10px;letter-spacing:-1.00px">1</span>60</div>
<div class="t" style="left:107.5px;top:584px;font-size:14px;font-weight:400;color:#262738;letter-spacing:-0.09px;">Churned Customers</div>
<div class="t r" style="right:1333.9px;top:584px;font-size:14px;font-weight:400;color:#262738;letter-spacing:0.10px;">3</div>
<svg class="b" style="left:409px;top:586px" width="16" height="16" viewBox="0 0 16 16" fill="none"><circle cx="8" cy="8" r="7.2" stroke="#262738" stroke-width="1.2"/><circle cx="8" cy="5.4" r="2.3" stroke="#262738" stroke-width="1.2"/><path d="M2.5 12.4L3.9 10.1Q4.6 9 5.9 8.9H10.1Q11.4 9 12.1 10.1L13.5 12.4" stroke="#262738" stroke-width="1.2"/></svg>
<div class="t r" style="right:1220.9px;top:584px;font-size:14px;font-weight:400;color:#262738;letter-spacing:0.10px;">4</div>
<svg class="b" style="left:522px;top:586px" width="16" height="16" viewBox="0 0 16 16" fill="none"><circle cx="8" cy="8" r="7.2" stroke="#262738" stroke-width="1.2"/><circle cx="8" cy="5.4" r="2.3" stroke="#262738" stroke-width="1.2"/><path d="M2.5 12.4L3.9 10.1Q4.6 9 5.9 8.9H10.1Q11.4 9 12.1 10.1L13.5 12.4" stroke="#262738" stroke-width="1.2"/></svg>
<div class="t r" style="right:1107.9px;top:584px;font-size:14px;font-weight:400;color:#262738;letter-spacing:0.10px;">5</div>
<svg class="b" style="left:635px;top:586px" width="16" height="16" viewBox="0 0 16 16" fill="none"><circle cx="8" cy="8" r="7.2" stroke="#262738" stroke-width="1.2"/><circle cx="8" cy="5.4" r="2.3" stroke="#262738" stroke-width="1.2"/><path d="M2.5 12.4L3.9 10.1Q4.6 9 5.9 8.9H10.1Q11.4 9 12.1 10.1L13.5 12.4" stroke="#262738" stroke-width="1.2"/></svg>
<div class="t r" style="right:994.9px;top:584px;font-size:14px;font-weight:400;color:#262738;letter-spacing:0.10px;">5</div>
<svg class="b" style="left:748px;top:586px" width="16" height="16" viewBox="0 0 16 16" fill="none"><circle cx="8" cy="8" r="7.2" stroke="#262738" stroke-width="1.2"/><circle cx="8" cy="5.4" r="2.3" stroke="#262738" stroke-width="1.2"/><path d="M2.5 12.4L3.9 10.1Q4.6 9 5.9 8.9H10.1Q11.4 9 12.1 10.1L13.5 12.4" stroke="#262738" stroke-width="1.2"/></svg>
<div class="t r" style="right:881.9px;top:584px;font-size:14px;font-weight:400;color:#262738;letter-spacing:0.10px;">6</div>
<svg class="b" style="left:861px;top:586px" width="16" height="16" viewBox="0 0 16 16" fill="none"><circle cx="8" cy="8" r="7.2" stroke="#262738" stroke-width="1.2"/><circle cx="8" cy="5.4" r="2.3" stroke="#262738" stroke-width="1.2"/><path d="M2.5 12.4L3.9 10.1Q4.6 9 5.9 8.9H10.1Q11.4 9 12.1 10.1L13.5 12.4" stroke="#262738" stroke-width="1.2"/></svg>
<div class="t r" style="right:768.9px;top:584px;font-size:14px;font-weight:400;color:#262738;letter-spacing:0.10px;">8</div>
<svg class="b" style="left:974px;top:586px" width="16" height="16" viewBox="0 0 16 16" fill="none"><circle cx="8" cy="8" r="7.2" stroke="#262738" stroke-width="1.2"/><circle cx="8" cy="5.4" r="2.3" stroke="#262738" stroke-width="1.2"/><path d="M2.5 12.4L3.9 10.1Q4.6 9 5.9 8.9H10.1Q11.4 9 12.1 10.1L13.5 12.4" stroke="#262738" stroke-width="1.2"/></svg>
<div class="t r" style="right:655.9000000000001px;top:584px;font-size:14px;font-weight:400;color:#262738;letter-spacing:0.10px;"><span style="margin-left:-1.10px;letter-spacing:-1.00px">1</span>0</div>
<svg class="b" style="left:1087px;top:586px" width="16" height="16" viewBox="0 0 16 16" fill="none"><circle cx="8" cy="8" r="7.2" stroke="#262738" stroke-width="1.2"/><circle cx="8" cy="5.4" r="2.3" stroke="#262738" stroke-width="1.2"/><path d="M2.5 12.4L3.9 10.1Q4.6 9 5.9 8.9H10.1Q11.4 9 12.1 10.1L13.5 12.4" stroke="#262738" stroke-width="1.2"/></svg>
<div class="t r" style="right:542.9000000000001px;top:584px;font-size:14px;font-weight:400;color:#262738;letter-spacing:0.10px;"><span style="margin-left:-1.10px;letter-spacing:-1.00px">1</span>2</div>
<svg class="b" style="left:1200px;top:586px" width="16" height="16" viewBox="0 0 16 16" fill="none"><circle cx="8" cy="8" r="7.2" stroke="#262738" stroke-width="1.2"/><circle cx="8" cy="5.4" r="2.3" stroke="#262738" stroke-width="1.2"/><path d="M2.5 12.4L3.9 10.1Q4.6 9 5.9 8.9H10.1Q11.4 9 12.1 10.1L13.5 12.4" stroke="#262738" stroke-width="1.2"/></svg>
<div class="t r" style="right:429.9000000000001px;top:584px;font-size:14px;font-weight:400;color:#262738;letter-spacing:0.10px;">5</div>
<svg class="b" style="left:1313px;top:586px" width="16" height="16" viewBox="0 0 16 16" fill="none"><circle cx="8" cy="8" r="7.2" stroke="#262738" stroke-width="1.2"/><circle cx="8" cy="5.4" r="2.3" stroke="#262738" stroke-width="1.2"/><path d="M2.5 12.4L3.9 10.1Q4.6 9 5.9 8.9H10.1Q11.4 9 12.1 10.1L13.5 12.4" stroke="#262738" stroke-width="1.2"/></svg>
<div class="t r" style="right:316.9000000000001px;top:584px;font-size:14px;font-weight:400;color:#262738;letter-spacing:0.10px;">5</div>
<svg class="b" style="left:1426px;top:586px" width="16" height="16" viewBox="0 0 16 16" fill="none"><circle cx="8" cy="8" r="7.2" stroke="#262738" stroke-width="1.2"/><circle cx="8" cy="5.4" r="2.3" stroke="#262738" stroke-width="1.2"/><path d="M2.5 12.4L3.9 10.1Q4.6 9 5.9 8.9H10.1Q11.4 9 12.1 10.1L13.5 12.4" stroke="#262738" stroke-width="1.2"/></svg>
<div class="t r" style="right:203.9000000000001px;top:584px;font-size:14px;font-weight:400;color:#262738;letter-spacing:0.10px;">5</div>
<svg class="b" style="left:1539px;top:586px" width="16" height="16" viewBox="0 0 16 16" fill="none"><circle cx="8" cy="8" r="7.2" stroke="#262738" stroke-width="1.2"/><circle cx="8" cy="5.4" r="2.3" stroke="#262738" stroke-width="1.2"/><path d="M2.5 12.4L3.9 10.1Q4.6 9 5.9 8.9H10.1Q11.4 9 12.1 10.1L13.5 12.4" stroke="#262738" stroke-width="1.2"/></svg>
<div class="t r" style="right:90.90000000000009px;top:584px;font-size:14px;font-weight:400;color:#262738;letter-spacing:0.10px;">5</div>
<div class="t" style="left:107.5px;top:624px;font-size:14px;font-weight:400;color:#262738;letter-spacing:-0.56px;">Churn MRR</div>
<div class="t r" style="right:1333.9px;top:624px;font-size:14px;font-weight:400;color:#262738;letter-spacing:0.10px;">-$297</div>
<svg class="b" style="left:410px;top:627px" width="14" height="14" viewBox="0 0 14 14" fill="none"><path d="M1.6 8.6V2.1C1.6 1.4 2.1 0.9 2.8 0.9H11.2C11.9 0.9 12.4 1.4 12.4 2.1V8.6Z" stroke="#262738" stroke-width="1.25" stroke-linejoin="round"/><path d="M1.6 9.1L0.6 11.9C0.5 12.5 0.9 12.9 1.5 12.9H12.5C13.1 12.9 13.5 12.5 13.4 11.9L12.4 9.1" stroke="#262738" stroke-width="1.25" stroke-linejoin="round"/><path d="M5.8 10.5H8.2M7 10.5V11.2" stroke="#262738" stroke-width="1.1" stroke-linecap="round"/></svg>
<div class="t r" style="right:1220.9px;top:624px;font-size:14px;font-weight:400;color:#262738;letter-spacing:0.10px;">-$396</div>
<svg class="b" style="left:523px;top:627px" width="14" height="14" viewBox="0 0 14 14" fill="none"><path d="M1.6 8.6V2.1C1.6 1.4 2.1 0.9 2.8 0.9H11.2C11.9 0.9 12.4 1.4 12.4 2.1V8.6Z" stroke="#262738" stroke-width="1.25" stroke-linejoin="round"/><path d="M1.6 9.1L0.6 11.9C0.5 12.5 0.9 12.9 1.5 12.9H12.5C13.1 12.9 13.5 12.5 13.4 11.9L12.4 9.1" stroke="#262738" stroke-width="1.25" stroke-linejoin="round"/><path d="M5.8 10.5H8.2M7 10.5V11.2" stroke="#262738" stroke-width="1.1" stroke-linecap="round"/></svg>
<div class="t r" style="right:1107.9px;top:624px;font-size:14px;font-weight:400;color:#262738;letter-spacing:0.10px;">-$495</div>
<svg class="b" style="left:636px;top:627px" width="14" height="14" viewBox="0 0 14 14" fill="none"><path d="M1.6 8.6V2.1C1.6 1.4 2.1 0.9 2.8 0.9H11.2C11.9 0.9 12.4 1.4 12.4 2.1V8.6Z" stroke="#262738" stroke-width="1.25" stroke-linejoin="round"/><path d="M1.6 9.1L0.6 11.9C0.5 12.5 0.9 12.9 1.5 12.9H12.5C13.1 12.9 13.5 12.5 13.4 11.9L12.4 9.1" stroke="#262738" stroke-width="1.25" stroke-linejoin="round"/><path d="M5.8 10.5H8.2M7 10.5V11.2" stroke="#262738" stroke-width="1.1" stroke-linecap="round"/></svg>
<div class="t r" style="right:994.9px;top:624px;font-size:14px;font-weight:400;color:#262738;letter-spacing:0.10px;">-$495</div>
<svg class="b" style="left:749px;top:627px" width="14" height="14" viewBox="0 0 14 14" fill="none"><path d="M1.6 8.6V2.1C1.6 1.4 2.1 0.9 2.8 0.9H11.2C11.9 0.9 12.4 1.4 12.4 2.1V8.6Z" stroke="#262738" stroke-width="1.25" stroke-linejoin="round"/><path d="M1.6 9.1L0.6 11.9C0.5 12.5 0.9 12.9 1.5 12.9H12.5C13.1 12.9 13.5 12.5 13.4 11.9L12.4 9.1" stroke="#262738" stroke-width="1.25" stroke-linejoin="round"/><path d="M5.8 10.5H8.2M7 10.5V11.2" stroke="#262738" stroke-width="1.1" stroke-linecap="round"/></svg>
<div class="t r" style="right:881.9px;top:624px;font-size:14px;font-weight:400;color:#262738;letter-spacing:0.10px;">-$594</div>
<svg class="b" style="left:862px;top:627px" width="14" height="14" viewBox="0 0 14 14" fill="none"><path d="M1.6 8.6V2.1C1.6 1.4 2.1 0.9 2.8 0.9H11.2C11.9 0.9 12.4 1.4 12.4 2.1V8.6Z" stroke="#262738" stroke-width="1.25" stroke-linejoin="round"/><path d="M1.6 9.1L0.6 11.9C0.5 12.5 0.9 12.9 1.5 12.9H12.5C13.1 12.9 13.5 12.5 13.4 11.9L12.4 9.1" stroke="#262738" stroke-width="1.25" stroke-linejoin="round"/><path d="M5.8 10.5H8.2M7 10.5V11.2" stroke="#262738" stroke-width="1.1" stroke-linecap="round"/></svg>
<div class="t r" style="right:768.9px;top:624px;font-size:14px;font-weight:400;color:#262738;letter-spacing:0.10px;">-$792</div>
<svg class="b" style="left:975px;top:627px" width="14" height="14" viewBox="0 0 14 14" fill="none"><path d="M1.6 8.6V2.1C1.6 1.4 2.1 0.9 2.8 0.9H11.2C11.9 0.9 12.4 1.4 12.4 2.1V8.6Z" stroke="#262738" stroke-width="1.25" stroke-linejoin="round"/><path d="M1.6 9.1L0.6 11.9C0.5 12.5 0.9 12.9 1.5 12.9H12.5C13.1 12.9 13.5 12.5 13.4 11.9L12.4 9.1" stroke="#262738" stroke-width="1.25" stroke-linejoin="round"/><path d="M5.8 10.5H8.2M7 10.5V11.2" stroke="#262738" stroke-width="1.1" stroke-linecap="round"/></svg>
<div class="t r" style="right:655.9000000000001px;top:624px;font-size:14px;font-weight:400;color:#262738;letter-spacing:0.10px;">-$990</div>
<svg class="b" style="left:1088px;top:627px" width="14" height="14" viewBox="0 0 14 14" fill="none"><path d="M1.6 8.6V2.1C1.6 1.4 2.1 0.9 2.8 0.9H11.2C11.9 0.9 12.4 1.4 12.4 2.1V8.6Z" stroke="#262738" stroke-width="1.25" stroke-linejoin="round"/><path d="M1.6 9.1L0.6 11.9C0.5 12.5 0.9 12.9 1.5 12.9H12.5C13.1 12.9 13.5 12.5 13.4 11.9L12.4 9.1" stroke="#262738" stroke-width="1.25" stroke-linejoin="round"/><path d="M5.8 10.5H8.2M7 10.5V11.2" stroke="#262738" stroke-width="1.1" stroke-linecap="round"/></svg>
<div class="t r" style="right:542.9000000000001px;top:624px;font-size:14px;font-weight:400;color:#262738;letter-spacing:0.10px;">-$<span style="margin-left:-1.10px;letter-spacing:-1.00px">1</span>,<span style="margin-left:-1.10px;letter-spacing:-1.00px">1</span>88</div>
<svg class="b" style="left:1201px;top:627px" width="14" height="14" viewBox="0 0 14 14" fill="none"><path d="M1.6 8.6V2.1C1.6 1.4 2.1 0.9 2.8 0.9H11.2C11.9 0.9 12.4 1.4 12.4 2.1V8.6Z" stroke="#262738" stroke-width="1.25" stroke-linejoin="round"/><path d="M1.6 9.1L0.6 11.9C0.5 12.5 0.9 12.9 1.5 12.9H12.5C13.1 12.9 13.5 12.5 13.4 11.9L12.4 9.1" stroke="#262738" stroke-width="1.25" stroke-linejoin="round"/><path d="M5.8 10.5H8.2M7 10.5V11.2" stroke="#262738" stroke-width="1.1" stroke-linecap="round"/></svg>
<div class="t r" style="right:429.9000000000001px;top:624px;font-size:14px;font-weight:400;color:#262738;letter-spacing:0.10px;">-$495</div>
<svg class="b" style="left:1314px;top:627px" width="14" height="14" viewBox="0 0 14 14" fill="none"><path d="M1.6 8.6V2.1C1.6 1.4 2.1 0.9 2.8 0.9H11.2C11.9 0.9 12.4 1.4 12.4 2.1V8.6Z" stroke="#262738" stroke-width="1.25" stroke-linejoin="round"/><path d="M1.6 9.1L0.6 11.9C0.5 12.5 0.9 12.9 1.5 12.9H12.5C13.1 12.9 13.5 12.5 13.4 11.9L12.4 9.1" stroke="#262738" stroke-width="1.25" stroke-linejoin="round"/><path d="M5.8 10.5H8.2M7 10.5V11.2" stroke="#262738" stroke-width="1.1" stroke-linecap="round"/></svg>
<div class="t r" style="right:316.9000000000001px;top:624px;font-size:14px;font-weight:400;color:#262738;letter-spacing:0.10px;">-$495</div>
<svg class="b" style="left:1427px;top:627px" width="14" height="14" viewBox="0 0 14 14" fill="none"><path d="M1.6 8.6V2.1C1.6 1.4 2.1 0.9 2.8 0.9H11.2C11.9 0.9 12.4 1.4 12.4 2.1V8.6Z" stroke="#262738" stroke-width="1.25" stroke-linejoin="round"/><path d="M1.6 9.1L0.6 11.9C0.5 12.5 0.9 12.9 1.5 12.9H12.5C13.1 12.9 13.5 12.5 13.4 11.9L12.4 9.1" stroke="#262738" stroke-width="1.25" stroke-linejoin="round"/><path d="M5.8 10.5H8.2M7 10.5V11.2" stroke="#262738" stroke-width="1.1" stroke-linecap="round"/></svg>
<div class="t r" style="right:203.9000000000001px;top:624px;font-size:14px;font-weight:400;color:#262738;letter-spacing:0.10px;">-$495</div>
<svg class="b" style="left:1540px;top:627px" width="14" height="14" viewBox="0 0 14 14" fill="none"><path d="M1.6 8.6V2.1C1.6 1.4 2.1 0.9 2.8 0.9H11.2C11.9 0.9 12.4 1.4 12.4 2.1V8.6Z" stroke="#262738" stroke-width="1.25" stroke-linejoin="round"/><path d="M1.6 9.1L0.6 11.9C0.5 12.5 0.9 12.9 1.5 12.9H12.5C13.1 12.9 13.5 12.5 13.4 11.9L12.4 9.1" stroke="#262738" stroke-width="1.25" stroke-linejoin="round"/><path d="M5.8 10.5H8.2M7 10.5V11.2" stroke="#262738" stroke-width="1.1" stroke-linecap="round"/></svg>
<div class="t r" style="right:90.90000000000009px;top:624px;font-size:14px;font-weight:400;color:#262738;letter-spacing:0.10px;">-$495</div>
<div class="t" style="left:107.5px;top:664px;font-size:14px;font-weight:400;color:#262738;letter-spacing:-0.52px;height:17px;overflow:hidden;">Ending MRR</div>
<div class="t r" style="right:1333.9px;top:664px;font-size:14px;font-weight:400;color:#9898a7;letter-spacing:0.10px;">$503</div>
<div class="t r" style="right:1220.9px;top:664px;font-size:14px;font-weight:400;color:#9898a7;letter-spacing:0.10px;">$<span style="margin-left:-1.10px;letter-spacing:-1.00px">1</span>,042</div>
<div class="t r" style="right:1107.9px;top:664px;font-size:14px;font-weight:400;color:#9898a7;letter-spacing:0.10px;">$2,447</div>
<div class="t r" style="right:994.9px;top:664px;font-size:14px;font-weight:400;color:#9898a7;letter-spacing:0.10px;">$3,652</div>
<div class="t r" style="right:881.9px;top:664px;font-size:14px;font-weight:400;color:#9898a7;letter-spacing:0.10px;">$5,833</div>
<div class="t r" style="right:770.0px;top:664px;font-size:14px;font-weight:400;color:#9898a7;letter-spacing:0.10px;">$8,0<span style="margin-left:-1.10px;letter-spacing:-1.00px">1</span><span style="margin-left:-1.10px;letter-spacing:-1.00px">1</span></div>
<div class="t r" style="right:657.0px;top:664px;font-size:14px;font-weight:400;color:#9898a7;letter-spacing:0.10px;">$9,99<span style="margin-left:-1.10px;letter-spacing:-1.00px">1</span></div>
<div class="t r" style="right:542.9000000000001px;top:664px;font-size:14px;font-weight:400;color:#9898a7;letter-spacing:0.10px;">$<span style="margin-left:-1.10px;letter-spacing:-1.00px">1</span>4,050</div>
<div class="t r" style="right:429.9000000000001px;top:664px;font-size:14px;font-weight:400;color:#9898a7;letter-spacing:0.10px;">$<span style="margin-left:-1.10px;letter-spacing:-1.00px">1</span>5,<span style="margin-left:-1.10px;letter-spacing:-1.00px">1</span>55</div>
<div class="t r" style="right:316.9000000000001px;top:664px;font-size:14px;font-weight:400;color:#9898a7;letter-spacing:0.10px;">$<span style="margin-left:-1.10px;letter-spacing:-1.00px">1</span>6,420</div>
<div class="t r" style="right:203.9000000000001px;top:664px;font-size:14px;font-weight:400;color:#9898a7;letter-spacing:0.10px;">$<span style="margin-left:-1.10px;letter-spacing:-1.00px">1</span>7,845</div>
<div class="t r" style="right:90.90000000000009px;top:664px;font-size:14px;font-weight:400;color:#9898a7;letter-spacing:0.10px;">$<span style="margin-left:-1.10px;letter-spacing:-1.00px">1</span>9,5<span style="margin-left:-1.10px;letter-spacing:-1.00px">1</span>0</div>
<div class="b" style="left:67px;top:713px;width:10px;height:2px;background:#262738;"></div>
<div class="b" style="left:71px;top:709px;width:2px;height:10px;background:#262738;"></div>
<div class="t" style="left:93.4px;top:704px;font-size:14px;font-weight:700;color:#262738;letter-spacing:-0.64px;">Revenue Only</div>
<div class="t r" style="right:1333.3px;top:704px;font-size:14px;font-weight:700;color:#9293a3;letter-spacing:0.70px;">$3<span style="margin-left:-1.50px;letter-spacing:-0.80px">1</span>,343</div>
<div class="t r" style="right:1220.3px;top:704px;font-size:14px;font-weight:700;color:#9293a3;letter-spacing:0.70px;">$4<span style="margin-left:-1.50px;letter-spacing:-0.80px">1</span>,<span style="margin-left:-1.50px;letter-spacing:-0.80px">1</span>83</div>
<div class="t r" style="right:1107.3px;top:704px;font-size:14px;font-weight:700;color:#9293a3;letter-spacing:0.70px;">$37,260</div>
<div class="t r" style="right:994.3px;top:704px;font-size:14px;font-weight:700;color:#9293a3;letter-spacing:0.70px;">$43,658</div>
<div class="t r" style="right:881.3px;top:704px;font-size:14px;font-weight:700;color:#9293a3;letter-spacing:0.70px;">$58,827</div>
<div class="t r" style="right:768.3px;top:704px;font-size:14px;font-weight:700;color:#9293a3;letter-spacing:0.70px;">$60,369</div>
<div class="t r" style="right:655.3px;top:704px;font-size:14px;font-weight:700;color:#9293a3;letter-spacing:0.70px;">$70,467</div>
<div class="t r" style="right:542.3px;top:704px;font-size:14px;font-weight:700;color:#9293a3;letter-spacing:0.70px;">$79,608</div>
<div class="t r" style="right:430.79999999999995px;top:704px;font-size:14px;font-weight:700;color:#9293a3;letter-spacing:0.70px;">$9<span style="margin-left:-1.50px;letter-spacing:-0.80px">1</span>,64<span style="margin-left:-1.50px;letter-spacing:-0.80px">1</span></div>
<div class="t r" style="right:316.29999999999995px;top:704px;font-size:14px;font-weight:700;color:#9293a3;letter-spacing:0.70px;">$<span style="margin-left:-1.50px;letter-spacing:-0.80px">1</span>03,<span style="margin-left:-1.50px;letter-spacing:-0.80px">1</span>66</div>
<div class="t r" style="right:203.29999999999995px;top:704px;font-size:14px;font-weight:700;color:#9293a3;letter-spacing:0.70px;">$<span style="margin-left:-1.50px;letter-spacing:-0.80px">1</span><span style="margin-left:-1.50px;letter-spacing:-0.80px">1</span>8,375</div>
<div class="t r" style="right:90.29999999999995px;top:704px;font-size:14px;font-weight:700;color:#9293a3;letter-spacing:0.70px;">$<span style="margin-left:-1.50px;letter-spacing:-0.80px">1</span>34,980</div>
<div class="t r" style="right:1308.92px;top:196px;font-size:14px;font-weight:700;color:#8e8f9d;letter-spacing:-0.42px;">Feb ’2<span style="margin-left:-1.50px;letter-spacing:-1.92px">1</span></div>
<div class="t r" style="right:1195.92px;top:196px;font-size:14px;font-weight:700;color:#8e8f9d;letter-spacing:-0.42px;">Mar ’2<span style="margin-left:-1.50px;letter-spacing:-1.92px">1</span></div>
<div class="t r" style="right:1082.92px;top:196px;font-size:14px;font-weight:700;color:#8e8f9d;letter-spacing:-0.42px;">Apr ’2<span style="margin-left:-1.50px;letter-spacing:-1.92px">1</span></div>
<div class="t r" style="right:969.92px;top:196px;font-size:14px;font-weight:700;color:#8e8f9d;letter-spacing:-0.42px;">May ’2<span style="margin-left:-1.50px;letter-spacing:-1.92px">1</span></div>
<div class="t r" style="right:856.92px;top:196px;font-size:14px;font-weight:700;color:#8e8f9d;letter-spacing:-0.42px;">Jun ’2<span style="margin-left:-1.50px;letter-spacing:-1.92px">1</span></div>
<div class="t r" style="right:743.92px;top:196px;font-size:14px;font-weight:700;color:#8e8f9d;letter-spacing:-0.42px;">Jul ’2<span style="margin-left:-1.50px;letter-spacing:-1.92px">1</span></div>
<div class="t r" style="right:630.9200000000001px;top:196px;font-size:14px;font-weight:700;color:#8e8f9d;letter-spacing:-0.42px;">Aug ’2<span style="margin-left:-1.50px;letter-spacing:-1.92px">1</span></div>
<div class="t r" style="right:517.9200000000001px;top:196px;font-size:14px;font-weight:700;color:#8e8f9d;letter-spacing:-0.42px;">Sep ’2<span style="margin-left:-1.50px;letter-spacing:-1.92px">1</span></div>
<div class="t r" style="right:404.9200000000001px;top:196px;font-size:14px;font-weight:700;color:#8e8f9d;letter-spacing:-0.42px;">Oct ’2<span style="margin-left:-1.50px;letter-spacing:-1.92px">1</span></div>
<div class="t r" style="right:291.9200000000001px;top:196px;font-size:14px;font-weight:700;color:#8e8f9d;letter-spacing:-0.42px;">Nov ’2<span style="margin-left:-1.50px;letter-spacing:-1.92px">1</span></div>
<div class="t r" style="right:178.92000000000007px;top:196px;font-size:14px;font-weight:700;color:#8e8f9d;letter-spacing:-0.42px;">Dec ’2<span style="margin-left:-1.50px;letter-spacing:-1.92px">1</span></div>
<div class="t r" style="right:64.42000000000007px;top:196px;font-size:14px;font-weight:700;color:#8e8f9d;letter-spacing:-0.42px;">Jan ’22</div>
<div class="b" style="left:1651px;top:181px;width:49px;height:552px;background:#fff"></div>
<div class="b" style="left:1651px;top:180px;width:49px;height:1px;background:#cddafc"></div>
<div class="b" style="left:1651px;top:229px;width:49px;height:1px;background:#cddafc"></div>
<div class="b" style="left:1651px;top:293px;width:49px;height:1px;background:#cddafc"></div>
<div class="b" style="left:1651px;top:333px;width:49px;height:1px;background:#cddafc"></div>
<div class="b" style="left:1651px;top:373px;width:49px;height:1px;background:#cddafc"></div>
<div class="b" style="left:1651px;top:413px;width:49px;height:1px;background:#cddafc"></div>
<div class="b" style="left:1651px;top:453px;width:49px;height:1px;background:#cddafc"></div>
<div class="b" style="left:1651px;top:493px;width:49px;height:1px;background:#cddafc"></div>
<div class="b" style="left:1651px;top:533px;width:49px;height:1px;background:#cddafc"></div>
<div class="b" style="left:1651px;top:573px;width:49px;height:1px;background:#cddafc"></div>
<div class="b" style="left:1651px;top:613px;width:49px;height:1px;background:#cddafc"></div>
<div class="b" style="left:1651px;top:653px;width:49px;height:1px;background:#cddafc"></div>
<div class="b" style="left:1651px;top:693px;width:49px;height:1px;background:#cddafc"></div>
<div class="b" style="left:1651px;top:733px;width:49px;height:1px;background:#cddafc"></div>
<svg class="b" style="left:1664px;top:466px" width="16" height="16" viewBox="0 0 16 16" fill="none"><circle cx="8" cy="8" r="7.3" stroke="#5283f6" stroke-width="1.2"/><rect x="4.4" y="7.3" width="1.4" height="1.4" fill="#5283f6"/><rect x="7.3" y="7.3" width="1.4" height="1.4" fill="#5283f6"/><rect x="10.2" y="7.3" width="1.4" height="1.4" fill="#5283f6"/></svg>
<svg class="b" style="left:1664px;top:506px" width="16" height="16" viewBox="0 0 16 16" fill="none"><circle cx="8" cy="8" r="7.3" stroke="#5283f6" stroke-width="1.2"/><rect x="4.4" y="7.3" width="1.4" height="1.4" fill="#5283f6"/><rect x="7.3" y="7.3" width="1.4" height="1.4" fill="#5283f6"/><rect x="10.2" y="7.3" width="1.4" height="1.4" fill="#5283f6"/></svg>
<svg class="b" style="left:1664px;top:546px" width="16" height="16" viewBox="0 0 16 16" fill="none"><circle cx="8" cy="8" r="7.3" stroke="#5283f6" stroke-width="1.2"/><rect x="4.4" y="7.3" width="1.4" height="1.4" fill="#5283f6"/><rect x="7.3" y="7.3" width="1.4" height="1.4" fill="#5283f6"/><rect x="10.2" y="7.3" width="1.4" height="1.4" fill="#5283f6"/></svg>
<svg class="b" style="left:1664px;top:586px" width="16" height="16" viewBox="0 0 16 16" fill="none"><circle cx="8" cy="8" r="7.3" stroke="#5283f6" stroke-width="1.2"/><rect x="4.4" y="7.3" width="1.4" height="1.4" fill="#5283f6"/><rect x="7.3" y="7.3" width="1.4" height="1.4" fill="#5283f6"/><rect x="10.2" y="7.3" width="1.4" height="1.4" fill="#5283f6"/></svg>
<svg class="b" style="left:1664px;top:626px" width="16" height="16" viewBox="0 0 16 16" fill="none"><circle cx="8" cy="8" r="7.3" stroke="#5283f6" stroke-width="1.2"/><rect x="4.4" y="7.3" width="1.4" height="1.4" fill="#5283f6"/><rect x="7.3" y="7.3" width="1.4" height="1.4" fill="#5283f6"/><rect x="10.2" y="7.3" width="1.4" height="1.4" fill="#5283f6"/></svg>
<svg class="b" style="left:1664px;top:666px" width="16" height="16" viewBox="0 0 16 16" fill="none"><circle cx="8" cy="8" r="7.3" stroke="#5283f6" stroke-width="1.2"/><rect x="4.4" y="7.3" width="1.4" height="1.4" fill="#5283f6"/><rect x="7.3" y="7.3" width="1.4" height="1.4" fill="#5283f6"/><rect x="10.2" y="7.3" width="1.4" height="1.4" fill="#5283f6"/></svg>
<div class="b" style="left:323px;top:734px;width:599px;height:8px;background:#ccdafd;border-radius:4px"></div>
</body></html>
